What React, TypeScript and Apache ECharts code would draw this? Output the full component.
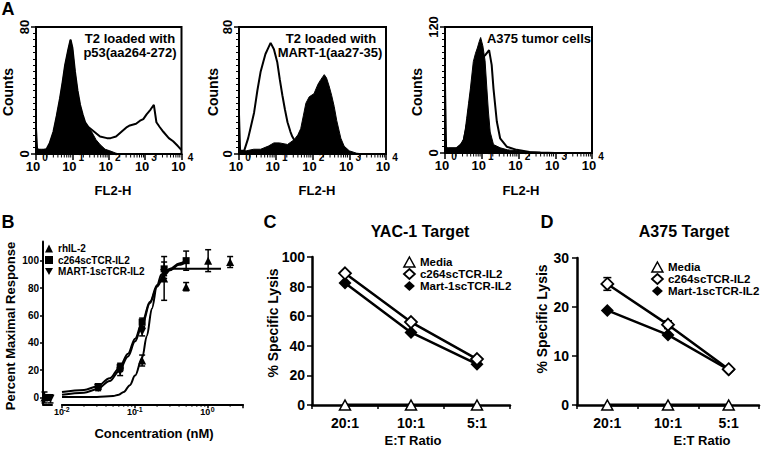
import { useEffect, useRef } from 'react';
import * as echarts from 'echarts';

const FONT = '"Liberation Sans", Arial, Helvetica, sans-serif';

// ---------------- Panel A: flow histograms, points are [log10(FL2-H), counts]
const a1Control: number[][] = [[0,3],[0.15,3],[0.29,3],[0.38,7],[0.48,14],[0.57,24],[0.66,35],[0.73,45],[0.8,56],[0.89,66],[0.95,72],[1.0,67],[1.07,52],[1.14,40],[1.21,31],[1.28,25],[1.35,20],[1.44,17],[1.53,14],[1.65,9],[1.76,6],[1.9,3],[2.03,2],[2.2,0.5],[2.3,0],[4,0]];
const a1Stained: number[][] = [[0,16],[0.03,3],[0.15,2],[0.29,3],[0.38,7],[0.48,14],[0.57,24],[0.66,35],[0.73,45],[0.8,56],[0.89,66],[0.95,72],[1.0,67],[1.07,52],[1.14,40],[1.21,31],[1.28,25],[1.35,20],[1.44,17],[1.6,14],[1.76,11],[1.95,10],[2.05,10],[2.2,11],[2.35,14],[2.5,17],[2.58,18],[2.75,19],[2.86,21],[2.95,22],[3.04,25],[3.15,28],[3.24,31],[3.31,20],[3.4,17],[3.5,14],[3.65,10],[3.77,8],[3.9,5],[4,2.5]];
const a2Control: number[][] = [[0,2],[0.2,2],[0.4,3],[0.59,3],[0.8,5],[0.95,7],[1.1,7],[1.32,6],[1.5,9],[1.6,12],[1.68,16],[1.75,24],[1.82,32],[1.91,36],[2.04,38],[2.15,44],[2.23,47],[2.32,50],[2.38,48],[2.45,43],[2.52,37],[2.59,30],[2.66,21],[2.77,10],[2.86,5],[3.0,2],[3.2,0.5],[3.4,0],[4,0]];
const a2Stained: number[][] = [[0,25],[0.03,2],[0.14,2],[0.25,10],[0.33,18],[0.41,26],[0.5,40],[0.59,52],[0.66,58],[0.72,63],[0.8,67],[0.86,70],[0.95,66],[1.04,58],[1.11,47],[1.18,37],[1.25,28],[1.32,20],[1.4,14],[1.45,11],[1.55,7],[1.7,4],[1.9,3],[2.2,2],[2.6,1],[3,0],[4,0]];
const a3Control: number[][] = [[0,5],[0.1,5],[0.32,5],[0.42,8],[0.5,13],[0.55,22],[0.59,33],[0.64,47],[0.69,61],[0.77,87],[0.83,95],[0.88,100],[0.93,106],[0.97,110],[1.03,102],[1.09,88],[1.14,61],[1.18,40],[1.23,20],[1.32,8],[1.5,5],[1.7,3],[2.0,2],[2.3,1],[2.6,0],[4,0]];
const a3Stained: number[][] = [[0,65],[0.03,4],[0.3,4],[0.5,10],[0.6,28],[0.7,55],[0.8,78],[0.9,88],[1.0,90],[1.09,93],[1.2,98],[1.27,84],[1.32,61],[1.41,30],[1.5,14],[1.68,6],[1.95,3],[2.3,1],[2.6,0.5],[3,0],[4,0]];
const aCountMax = [80, 80, 120];
const aDecades = [1, 10, 100, 1000, 10000];

// ---------------- Panel B: [concentration nM, % max response, SEM]
const rhIL2Points: number[][] = [[0.125,27,4],[0.25,87,16],[0.5,81,3],[1,100,8],[2,99,4]];
const c264Points: number[][] = [[0.03125,8,2],[0.0625,22,3],[0.125,55,3],[0.25,94,5],[0.5,100,7]];
const mart1Points: number[][] = [[0.03125,7,2],[0.0625,19,3],[0.125,48,3],[0.25,91,4]];
// fitted curves: [concentration nM, % max response]
const rhIL2Fit: number[][] = [[0.01,0.3],[0.03,0.4],[0.05,1],[0.06,2],[0.07,4],[0.085,9],[0.1,16],[0.125,29],[0.145,45],[0.17,65],[0.2,82],[0.23,90],[0.27,93],[0.33,94],[0.5,94],[1.0,94],[1.5,94]];
const c264Fit: number[][] = [[0.01,4],[0.02,5.5],[0.03,8],[0.045,14],[0.06,21],[0.08,32],[0.1,43],[0.125,55],[0.16,70],[0.2,82],[0.25,90],[0.3,94],[0.4,98],[0.5,100]];
const mart1Fit: number[][] = [[0.01,2],[0.02,3.5],[0.03,6],[0.045,12],[0.06,19],[0.08,30],[0.1,41],[0.125,53],[0.16,69],[0.2,81],[0.25,89],[0.3,93],[0.4,97],[0.5,99]];
const zeroDoseCats = ['rhIL-2', 'c264scTCR-IL2', 'MART-1scTCR-IL2'];
const zeroDoseResp = [0, 0, -1];
const zeroDoseSem = [4, 2, 3];
const bYTicks = [0, 20, 40, 60, 80, 100];
const bDecades = [0.01, 0.1, 1];

// ---------------- Panels C & D
const etRatios = ['20:1', '10:1', '5:1'];
const cMedia = [0, 0, 0];
const cC264 = [89, 56, 31];
const cMart1 = [82.5, 49, 27.6];
const dMedia = [0, 0, 0];
const dC264 = [24.7, 16.4, 7.3];
const dC264Sem = [1.3, 0.8, 0.3];
const dMart1 = [19.3, 14.3, 7.2];

const BLACK = '#000';
const toLin = (pts: number[][]) => pts.map(([l, c]) => [Math.pow(10, l), c]);

function minorLogTicks(lo: number, hi: number) {
  const out: number[] = [];
  for (let d = Math.floor(Math.log10(lo) + 1e-9); d < Math.ceil(Math.log10(hi) - 1e-9); d++) {
    for (let k = 2; k <= 9; k++) {
      const v = k * Math.pow(10, d);
      if (v > lo * 1.0001 && v < hi * 0.9999) out.push(v);
    }
  }
  return out;
}

const tickItem = (len: number) => (_p: any, api: any) => {
  const p = api.coord([api.value(0), api.value(1)]);
  return { type: 'line', shape: { x1: p[0], y1: p[1], x2: p[0], y2: p[1] + len }, style: { stroke: BLACK, lineWidth: 1 } };
};

const errorBarItem = (capW: number, lw: number) => (_p: any, api: any) => {
  const x = api.value(0);
  const top = api.coord([x, api.value(2)]);
  const bot = api.coord([x, api.value(1)]);
  const style = { stroke: BLACK, lineWidth: lw, fill: 'none' };
  return {
    type: 'group',
    children: [
      { type: 'line', shape: { x1: top[0], y1: top[1], x2: bot[0], y2: bot[1] }, style },
      { type: 'line', shape: { x1: top[0] - capW, y1: top[1], x2: top[0] + capW, y2: top[1] }, style },
      { type: 'line', shape: { x1: bot[0] - capW, y1: bot[1], x2: bot[0] + capW, y2: bot[1] }, style },
    ],
  };
};

const isDecade = (v: number) => {
  const e = Math.log10(v);
  return Math.abs(e - Math.round(e)) < 1e-6;
};
const baseLabel = (v: number) => (isDecade(v) ? '{b|10}' : '');

const bold = (size: number) => ({ fontSize: size, fontWeight: 'bold' as const, fontFamily: FONT, color: BLACK });

function txt(text: string, x: number, y: number, size: number, rot = 0, id?: string) {
  return {
    type: 'text', id, x, y, rotation: rot, silent: true, z: 100,
    style: { text, fill: BLACK, fontSize: size, fontWeight: 'bold', fontFamily: FONT, align: 'center', verticalAlign: 'middle' },
  };
}

function buildOption() {
  const grids: any[] = [
    { left: 36, top: 27, width: 145.5, height: 127, show: true, borderColor: BLACK, borderWidth: 2 },
    { left: 239, top: 27, width: 147, height: 127, show: true, borderColor: BLACK, borderWidth: 2 },
    { left: 445, top: 27, width: 147, height: 126, show: true, borderColor: BLACK, borderWidth: 2 },
    { left: 43, top: 241.5, width: 9, height: 162.8 },
    { left: 62, top: 241.5, width: 181, height: 162.8 },
    { left: 312, top: 257, width: 198, height: 148 },
    { left: 577, top: 258, width: 182, height: 147 },
  ];

  const axisLine = (w: number) => ({ show: true, onZero: false, lineStyle: { color: BLACK, width: w } });

  const xAxes: any[] = [];
  const yAxes: any[] = [];
  for (let i = 0; i < 3; i++) {
    xAxes.push({
      type: 'log', logBase: 10, gridIndex: i, min: 1, max: 10000, position: 'bottom',
      axisLine: axisLine(2), splitLine: { show: false },
      axisTick: { show: true, length: 6, lineStyle: { color: BLACK, width: 1.5 } },
      axisLabel: { margin: 6, showMaxLabel: true, showMinLabel: true, formatter: baseLabel, rich: { b: { ...bold(13), padding: [0, 6, 0, 0] } } },
    });
    yAxes.push({
      type: 'value', gridIndex: i, min: 0, max: aCountMax[i], interval: aCountMax[i],
      axisLine: axisLine(2), splitLine: { show: false },
      axisTick: { show: true, length: 5, lineStyle: { color: BLACK, width: 1.5 } },
      minorTick: { show: true, splitNumber: 20, length: 3, lineStyle: { color: BLACK, width: 1 } },
      minorSplitLine: { show: false },
      axisLabel: { ...bold(13), rotate: 90, margin: 5 },
    });
  }
  // B: zero-dose segment
  xAxes.push({
    type: 'category', gridIndex: 3, data: zeroDoseCats, boundaryGap: true,
    axisLine: axisLine(2), axisTick: { show: false }, axisLabel: { show: false }, splitLine: { show: false },
  });
  yAxes.push({
    type: 'value', gridIndex: 3, min: -5, max: 114,
    axisLine: axisLine(2), splitLine: { show: false },
    axisTick: { show: true, length: 3, customValues: bYTicks, lineStyle: { color: BLACK, width: 1.5 } },
    axisLabel: { ...bold(10), margin: 4, customValues: bYTicks },
  });
  // B: main log segment
  xAxes.push({
    type: 'log', logBase: 10, gridIndex: 4, min: 0.01, max: 3, position: 'bottom',
    axisLine: axisLine(2), splitLine: { show: false },
    axisTick: { show: true, length: 4, lineStyle: { color: BLACK, width: 1.5 } },
    axisLabel: { margin: 3, formatter: baseLabel, rich: { b: { ...bold(9), padding: [0, 6, 0, 0] } } },
  });
  yAxes.push({ type: 'value', gridIndex: 4, min: -5, max: 114, show: false });
  // C
  xAxes.push({
    type: 'category', gridIndex: 5, data: etRatios, boundaryGap: true,
    axisLine: axisLine(2.5), axisTick: { show: true, length: 4, lineStyle: { color: BLACK, width: 1.5 } },
    axisLabel: { ...bold(14), margin: 11 }, splitLine: { show: false },
  });
  yAxes.push({
    type: 'value', gridIndex: 5, min: 0, max: 100, interval: 20,
    axisLine: axisLine(2.5), splitLine: { show: false },
    axisTick: { show: true, length: 5, lineStyle: { color: BLACK, width: 1.5 } },
    axisLabel: { ...bold(14), margin: 7 },
  });
  // D
  xAxes.push({
    type: 'category', gridIndex: 6, data: etRatios, boundaryGap: true,
    axisLine: axisLine(2.5), axisTick: { show: true, length: 4, lineStyle: { color: BLACK, width: 1.5 } },
    axisLabel: { ...bold(14), margin: 11 }, splitLine: { show: false },
  });
  yAxes.push({
    type: 'value', gridIndex: 6, min: 0, max: 30, interval: 10,
    axisLine: axisLine(2.5), splitLine: { show: false },
    axisTick: { show: true, length: 5, lineStyle: { color: BLACK, width: 1.5 } },
    axisLabel: { ...bold(14), margin: 8 },
  });

  const series: any[] = [];
  const aSets = [[a1Control, a1Stained], [a2Control, a2Stained], [a3Control, a3Stained]];
  aSets.forEach(([ctrl, stained], i) => {
    series.push({
      type: 'line', name: `A${i + 1} control`, xAxisIndex: i, yAxisIndex: i, data: toLin(ctrl),
      symbol: 'none', lineStyle: { color: BLACK, width: 1 }, areaStyle: { color: BLACK, opacity: 1 }, z: 2,
    });
    series.push({
      type: 'line', name: `A${i + 1} stained`, xAxisIndex: i, yAxisIndex: i, data: toLin(stained),
      symbol: 'none', lineStyle: { color: BLACK, width: 2 }, z: 3,
    });
    series.push({
      type: 'custom', name: `A${i + 1} minor ticks`, xAxisIndex: i, yAxisIndex: i, silent: true, clip: false,
      coordinateSystem: 'cartesian2d', encode: { x: 0, y: 1 },
      data: minorLogTicks(1, 10000).map((v) => [v, 0]), renderItem: tickItem(3.5), z: 4,
    });
  });

  // B minor ticks
  series.push({
    type: 'custom', name: 'B minor ticks', xAxisIndex: 4, yAxisIndex: 4, silent: true, clip: false,
    coordinateSystem: 'cartesian2d', encode: { x: 0, y: 1 },
    data: minorLogTicks(0.01, 3).map((v) => [v, -5]), renderItem: tickItem(2.5), z: 4,
  });
  // B fitted curves
  const fits: [string, number[][]][] = [['rhIL-2 fit', rhIL2Fit], ['c264 fit', c264Fit], ['MART-1 fit', mart1Fit]];
  fits.forEach(([name, d]) => series.push({
    type: 'line', name, xAxisIndex: 4, yAxisIndex: 4, data: d, symbol: 'none', smooth: 0.35, smoothMonotone: 'x',
    lineStyle: { color: BLACK, width: 2 }, z: 2,
  }));
  const DOWN_TRI = 'path://M0,0L10,0L5,9Z';
  const bSets: [string, number[][], string, number][] = [
    ['rhIL-2', rhIL2Points, 'triangle', 8],
    ['c264scTCR-IL2', c264Points, 'rect', 7],
    ['MART-1scTCR-IL2', mart1Points, DOWN_TRI, 8],
  ];
  bSets.forEach(([name, pts, sym, size], i) => {
    series.push({
      type: 'custom', name: `${name} SEM`, xAxisIndex: 4, yAxisIndex: 4, coordinateSystem: 'cartesian2d',
      encode: { x: 0, y: [1, 2] }, silent: true, clip: false,
      data: pts.map(([c, m, s]) => [c, m - s, m + s]), renderItem: errorBarItem(3, 1.5), z: 3,
    });
    series.push({
      type: 'scatter', name, xAxisIndex: 4, yAxisIndex: 4, data: pts.map(([c, m]) => [c, m]),
      symbol: sym, symbolSize: size, itemStyle: { color: BLACK, opacity: 1 }, z: 5,
    });
    series.push({
      type: 'custom', name: `${name} zero SEM`, xAxisIndex: 3, yAxisIndex: 3, coordinateSystem: 'cartesian2d',
      encode: { x: 0, y: [1, 2] }, silent: true, clip: false,
      data: [[i, zeroDoseResp[i] - zeroDoseSem[i], zeroDoseResp[i] + zeroDoseSem[i]]], renderItem: errorBarItem(3, 1.5), z: 3,
    });
    series.push({
      type: 'scatter', name, xAxisIndex: 3, yAxisIndex: 3, data: [[zeroDoseCats[i], zeroDoseResp[i]]],
      symbol: sym, symbolSize: size, itemStyle: { color: BLACK, opacity: 1 }, z: 5, clip: false,
    });
  });

  // C & D
  const lysis = (idx: number, media: number[], c264: number[], mart: number[], big: number) => {
    series.push({
      type: 'line', name: 'Mart-1scTCR-IL2', xAxisIndex: idx, yAxisIndex: idx, data: mart,
      symbol: 'diamond', symbolSize: big + 1, showSymbol: true, lineStyle: { color: BLACK, width: 2.5 },
      itemStyle: { color: BLACK, borderColor: BLACK, borderWidth: 0 }, z: 3,
    });
    series.push({
      type: 'line', name: 'c264scTCR-IL2', xAxisIndex: idx, yAxisIndex: idx, data: c264,
      symbol: 'diamond', symbolSize: big, showSymbol: true, lineStyle: { color: BLACK, width: 2.5 },
      itemStyle: { color: '#fff', borderColor: BLACK, borderWidth: 1.8 }, z: 4,
    });
    series.push({
      type: 'line', name: 'Media', xAxisIndex: idx, yAxisIndex: idx, data: media,
      symbol: 'triangle', symbolSize: [11, 10], showSymbol: true, lineStyle: { color: BLACK, width: 3 },
      itemStyle: { color: '#fff', borderColor: BLACK, borderWidth: 1.5 }, z: 5, clip: false,
    });
  };
  lysis(5, cMedia, cC264, cMart1, 12);
  series.push({
    type: 'custom', name: 'D c264 SEM', xAxisIndex: 6, yAxisIndex: 6, coordinateSystem: 'cartesian2d',
    encode: { x: 0, y: [1, 2] }, silent: true,
    data: dC264.map((m, i) => [i, m - dC264Sem[i], m + dC264Sem[i]]), renderItem: errorBarItem(4, 1.5), z: 2,
  });
  lysis(6, dMedia, dC264, dMart1, 12);

  const legText = (size: number) => ({ ...bold(size) });
  const lysisLegendData = [
    { name: 'Media', icon: 'triangle', itemStyle: { color: '#fff', borderColor: BLACK, borderWidth: 1.5 } },
    { name: 'c264scTCR-IL2', icon: 'diamond', itemStyle: { color: '#fff', borderColor: BLACK, borderWidth: 1.8 } },
    { name: 'Mart-1scTCR-IL2', icon: 'diamond', itemStyle: { color: BLACK, borderColor: BLACK, borderWidth: 0 } },
  ];
  const legend: any[] = [
    {
      orient: 'vertical', left: 45, top: 243.5, itemWidth: 8, itemHeight: 8, itemGap: 1.5, selectedMode: false,
      textStyle: legText(10), padding: 0,
      data: [
        { name: 'rhIL-2', icon: 'triangle', itemStyle: { color: BLACK, borderWidth: 0 } },
        { name: 'c264scTCR-IL2', icon: 'rect', itemStyle: { color: BLACK, borderWidth: 0 } },
        { name: 'MART-1scTCR-IL2', icon: DOWN_TRI, itemStyle: { color: BLACK, borderWidth: 0 } },
      ],
    },
    {
      orient: 'vertical', left: 403, top: 256, itemWidth: 11, itemHeight: 10, itemGap: 0, selectedMode: false,
      textStyle: legText(11.5), padding: 0, data: lysisLegendData,
    },
    {
      orient: 'vertical', left: 651, top: 261, itemWidth: 11, itemHeight: 10, itemGap: 0, selectedMode: false,
      textStyle: legText(11.5), padding: 0, data: lysisLegendData,
    },
  ];

  const R = Math.PI / 2;
  const elements = [
    txt('A', 8, 9, 18),
    txt('Counts', 8, 92, 14, R), txt('Counts', 213, 92, 14, R), txt('Counts', 417, 92, 14, R),
    txt('FL2-H', 113, 190, 13), txt('FL2-H', 317, 190, 13), txt('FL2-H', 521, 190, 13),
    txt('T2 loaded with', 130, 38, 13), txt('p53(aa264-272)', 130, 52, 13),
    txt('T2 loaded with', 331, 38, 13), txt('MART-1(aa27-35)', 330, 52, 13),
    txt('A375 tumor cells', 539, 38, 13),
    txt('B', 8, 222, 18),
    txt('Percent Maximal Response', 10, 326, 13, R),
    txt('Concentration (nM)', 154, 433, 13),
    txt('C', 270, 222, 18),
    txt('YAC-1 Target', 420, 231, 16),
    txt('% Specific Lysis', 273, 323, 14, R),
    txt('E:T Ratio', 413, 440, 13),
    txt('D', 547, 222, 18),
    txt('A375 Target', 684, 231, 16),
    txt('% Specific Lysis', 542, 319, 14, R),
    txt('E:T Ratio', 702, 440, 13),
  ];

  return {
    animation: false,
    backgroundColor: '#fff',
    textStyle: { fontFamily: FONT },
    grid: grids,
    xAxis: xAxes,
    yAxis: yAxes,
    legend,
    series,
    graphic: { elements },
  };
}

// superscript exponents of the decade labels, placed through the axes' own scales
function exponentTexts(chart: echarts.ECharts) {
  const out: any[] = [];
  const place = (axis: number, decades: number[], yVal: number, dx: number, dy: number, size: number) => {
    const y0 = chart.convertToPixel({ yAxisIndex: axis }, yVal) as unknown as number;
    decades.forEach((v, k) => {
      const x0 = chart.convertToPixel({ xAxisIndex: axis }, v) as unknown as number;
      out.push(txt(`${Math.round(Math.log10(v))}`, x0 + dx, y0 + dy, size, 0, `exp-${axis}-${k}`));
    });
  };
  for (let i = 0; i < 3; i++) place(i, aDecades, 0, 9, 3, 10);
  place(4, bDecades, -5, 4.5, 4.8, 7);
  return out;
}

export default function App() {
  const ref = useRef<HTMLDivElement>(null);
  useEffect(() => {
    const chart = echarts.init(ref.current!, undefined, { renderer: 'svg' });
    const option: any = buildOption();
    chart.setOption(option);
    const exps = exponentTexts(chart);
    chart.setOption({ graphic: { elements: [...option.graphic.elements, ...exps] } });
    return () => chart.dispose();
  }, []);
  return (
    <div
      ref={ref}
      style={{ position: 'fixed', left: 0, top: 0, width: 763, height: 449, background: '#fff' }}
    />
  );
}
